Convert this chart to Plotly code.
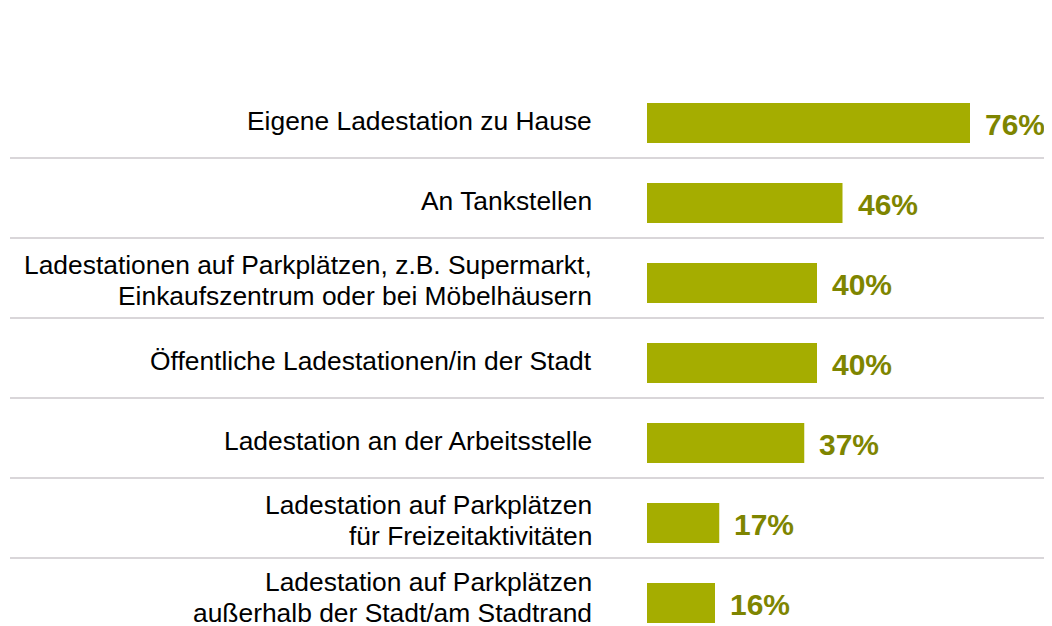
import plotly.graph_objects as go

categories = [
    "Eigene Ladestation zu Hause",
    "An Tankstellen",
    "Ladestationen auf Parkplätzen, z.B. Supermarkt,<br>Einkaufszentrum oder bei Möbelhäusern",
    "Öffentliche Ladestationen/in der Stadt",
    "Ladestation an der Arbeitsstelle",
    "Ladestation auf Parkplätzen<br>für Freizeitaktivitäten",
    "Ladestation auf Parkplätzen<br>außerhalb der Stadt/am Stadtrand",
]
values = [76, 46, 40, 40, 37, 17, 16]
value_labels = ["76%", "46%", "40%", "40%", "37%", "17%", "16%"]

W, H = 1052, 626
OFF = 8               # page body margin of the browser
BAR_X0 = 647 - OFF    # pixel where bars start (figure coords)
PX_PER_PCT = 4.25
ROW0 = 123 - OFF      # pixel centre of first row
ROW_H = 80
LABEL_RIGHT = 594 - OFF

BAR_COLOR = "#A5AD00"
VAL_COLOR = "#7E8500"
SEP_COLOR = "#D9D6D9"

idx = list(range(len(categories)))

fig = go.Figure(
    go.Bar(
        x=values,
        y=idx,
        orientation="h",
        marker=dict(color=BAR_COLOR, line=dict(width=0)),
        width=0.5,
        hoverinfo="skip",
    )
)

annotations = []
last = len(categories) - 1
for i, (cat, v, lab) in enumerate(zip(categories, values, value_labels)):
    annotations.append(dict(
        x=v, y=i, xref="x", yref="y", text=f"<b>{lab}</b>", showarrow=False,
        xanchor="left", yanchor="middle", xshift=13, yshift=-1,
        font=dict(family="Liberation Sans, Arial, sans-serif", size=30, color=VAL_COLOR),
    ))
    lines = cat.split("<br>")
    if len(lines) == 1:
        shifts = [2]
    elif i == last:
        shifts = [21, -10]
    else:
        shifts = [18, -13]
    for line, s in zip(lines, shifts):
        annotations.append(dict(
            x=(LABEL_RIGHT - BAR_X0) / PX_PER_PCT, y=i, xref="x", yref="y", text=line,
            showarrow=False, xanchor="right", yanchor="middle", yshift=s,
            font=dict(family="Liberation Sans, Arial, sans-serif", size=26.4, color="#000000"),
        ))

shapes = []
for i in range(len(categories) - 1):
    shapes.append(dict(
        type="line", xref="paper", yref="y",
        x0=(10 - OFF) / W, x1=1, y0=i + 0.4375, y1=i + 0.4375,
        line=dict(color=SEP_COLOR, width=2),
    ))

ytop = -ROW0 / ROW_H
ybot = ytop + H / ROW_H

fig.update_layout(
    width=W, height=H,
    margin=dict(l=0, r=0, t=0, b=0),
    paper_bgcolor="white", plot_bgcolor="white",
    showlegend=False,
    xaxis=dict(range=[-BAR_X0 / PX_PER_PCT, (W - BAR_X0) / PX_PER_PCT],
               visible=False, fixedrange=True),
    yaxis=dict(range=[ybot, ytop], visible=False, fixedrange=True),
    annotations=annotations,
    shapes=shapes,
)

fig.write_html("out.html")
